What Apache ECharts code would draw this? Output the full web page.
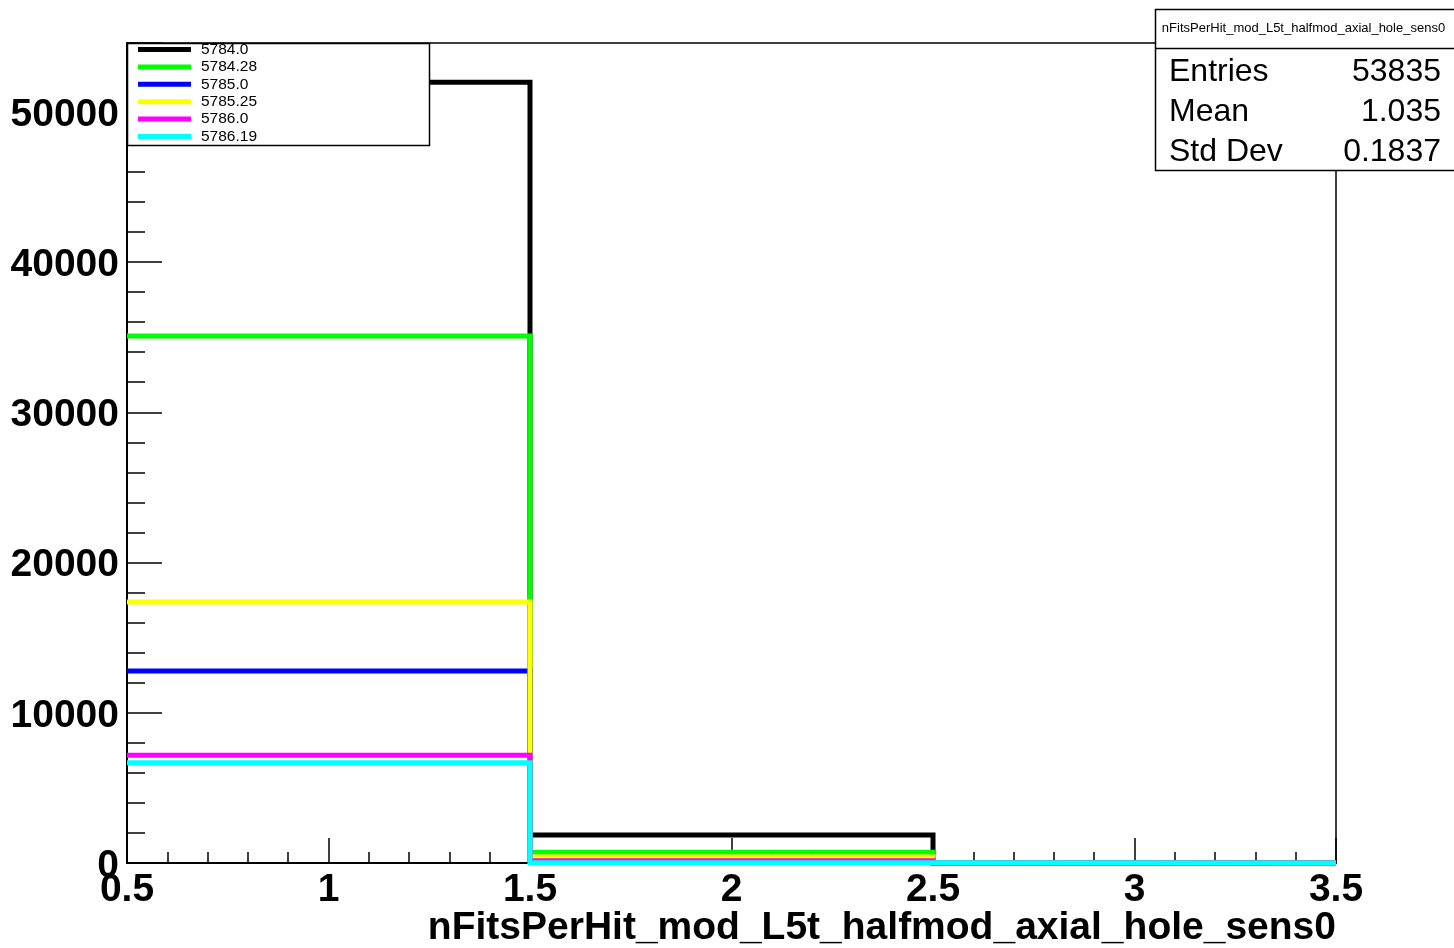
<!DOCTYPE html>
<html>
<head>
<meta charset="utf-8">
<script src="https://cdn.jsdelivr.net/npm/echarts@6/dist/echarts.min.js"></script>
<style>
html,body{margin:0;padding:0;background:#fff;}
#chart{width:1454px;height:948px;}
</style>
</head>
<body>
<div id="chart"></div>
<script>
// ---- data ----
const binEdges = [0.5, 1.5, 2.5, 3.5];
const runNames = ['5784.0', '5784.28', '5785.0', '5785.25', '5786.0', '5786.19'];
const run5784_0  = [51970, 1865, 0];
const run5784_28 = [35070, 710, 0];
const run5785_0  = [12780, 250, 0];
const run5785_25 = [17370, 400, 0];
const run5786_0  = [7170, 150, 0];
const run5786_19 = [6680, 20, 0];
const runColors = ['#000000', '#00ff00', '#0000ff', '#ffff00', '#ff00ff', '#00ffff'];
const xTicks = [0.5, 1, 1.5, 2, 2.5, 3, 3.5];
const yTicks = [0, 10000, 20000, 30000, 40000, 50000];
const histTitle = 'nFitsPerHit_mod_L5t_halfmod_axial_hole_sens0';
const statNames = ['Entries', 'Mean', 'Std Dev'];
const statValues = ['53835', '1.035', '0.1837'];

const FONT = '"Liberation Sans", Arial, Helvetica, sans-serif';
const allRuns = [run5784_0, run5784_28, run5785_0, run5785_25, run5786_0, run5786_19];

function stepPoints(vals) {
  const pts = [];
  for (let i = 0; i < vals.length; i++) {
    pts.push([binEdges[i], vals[i]]);
    pts.push([binEdges[i + 1], vals[i]]);
  }
  return pts;
}

const series = allRuns.map((vals, i) => ({
  name: runNames[i],
  type: 'line',
  data: stepPoints(vals),
  showSymbol: false,
  symbol: 'none',
  clip: false,
  lineStyle: { color: runColors[i], width: 5, cap: 'butt', join: 'miter' },
  itemStyle: { color: runColors[i] },
  z: 2 + i,
  animation: false
}));

const chart = echarts.init(document.getElementById('chart'), null, { renderer: 'canvas' });
chart.setOption({
  animation: false,
  backgroundColor: '#ffffff',
  grid: {
    left: 127, top: 43, right: 118, bottom: 85,
    show: true, borderColor: '#000', borderWidth: 1.5, backgroundColor: 'transparent'
  },
  xAxis: {
    type: 'value',
    min: xTicks[0], max: xTicks[xTicks.length - 1], interval: 0.5,
    axisLine: { show: true, onZero: false, lineStyle: { color: '#000', width: 2 } },
    axisTick: { show: true, inside: true, length: 25, lineStyle: { color: '#000', width: 1.5 } },
    minorTick: { show: true, splitNumber: 5, length: 11, lineStyle: { color: '#000', width: 1.5 } },
    splitLine: { show: false },
    axisLabel: {
      margin: 8, color: '#000', fontFamily: FONT, fontWeight: 'bold', fontSize: 39, lineHeight: 39,
      formatter: v => String(v)
    }
  },
  yAxis: {
    type: 'value',
    min: 0, max: 54576, interval: 10000,
    axisLine: { show: true, onZero: false, lineStyle: { color: '#000', width: 2 } },
    axisTick: { show: true, inside: true, length: 35, lineStyle: { color: '#000', width: 1.5 } },
    minorTick: { show: true, splitNumber: 5, length: 18, lineStyle: { color: '#000', width: 1.5 } },
    splitLine: { show: false },
    axisLabel: {
      margin: 8, color: '#000', fontFamily: FONT, fontWeight: 'bold', fontSize: 39,
      showMaxLabel: false,
      formatter: v => (yTicks.indexOf(v) >= 0 ? '{a|' + v + '}' : ''),
      rich: { a: { fontFamily: FONT, fontWeight: 'bold', fontSize: 39, color: '#000', padding: [6, 0, 0, 0] } }
    }
  },
  legend: {
    show: true,
    orient: 'vertical',
    left: 138, top: 41,
    padding: 0,
    itemGap: 0.4,
    itemWidth: 53, itemHeight: 5,
    icon: 'rect',
    z: 300,
    textStyle: { fontFamily: FONT, fontSize: 15.5, color: '#000', lineHeight: 17, padding: [0, 0, 0, 5] },
    data: runNames
  },
  graphic: {
    elements: [
      { type: 'rect', z: 250, shape: { x: 127.5, y: 43.5, width: 302, height: 102 },
        style: { fill: '#fff', stroke: '#000', lineWidth: 1.5 } },
      { type: 'rect', z: 250, shape: { x: 1155.5, y: 9.5, width: 320, height: 161 },
        style: { fill: '#fff', stroke: '#000', lineWidth: 1.5 } },
      { type: 'line', z: 251, shape: { x1: 1155.5, y1: 48.5, x2: 1460, y2: 48.5 },
        style: { stroke: '#000', lineWidth: 1.5 } },
      { type: 'text', z: 252, style: { text: histTitle, x: 1303.5, y: 28, font: '13px ' + FONT,
        fill: '#000', textAlign: 'center', textVerticalAlign: 'middle', align: 'center', verticalAlign: 'middle' } },
      ...statNames.map((s, i) => ({ type: 'text', z: 252, style: { text: s, x: 1169, y: 72 + i * 40,
        font: '32px ' + FONT, fill: '#000', textAlign: 'left', textVerticalAlign: 'middle', align: 'left', verticalAlign: 'middle' } })),
      ...statValues.map((s, i) => ({ type: 'text', z: 252, style: { text: s, x: 1441, y: 72 + i * 40,
        font: '32px ' + FONT, fill: '#000', textAlign: 'right', textVerticalAlign: 'middle', align: 'right', verticalAlign: 'middle' } })),
      { type: 'text', z: 252, style: { text: histTitle, x: 1336, y: 928, font: 'bold 39px ' + FONT,
        fill: '#000', textAlign: 'right', textVerticalAlign: 'middle', align: 'right', verticalAlign: 'middle' } }
    ]
  },
  series: series
});
</script>
</body>
</html>
